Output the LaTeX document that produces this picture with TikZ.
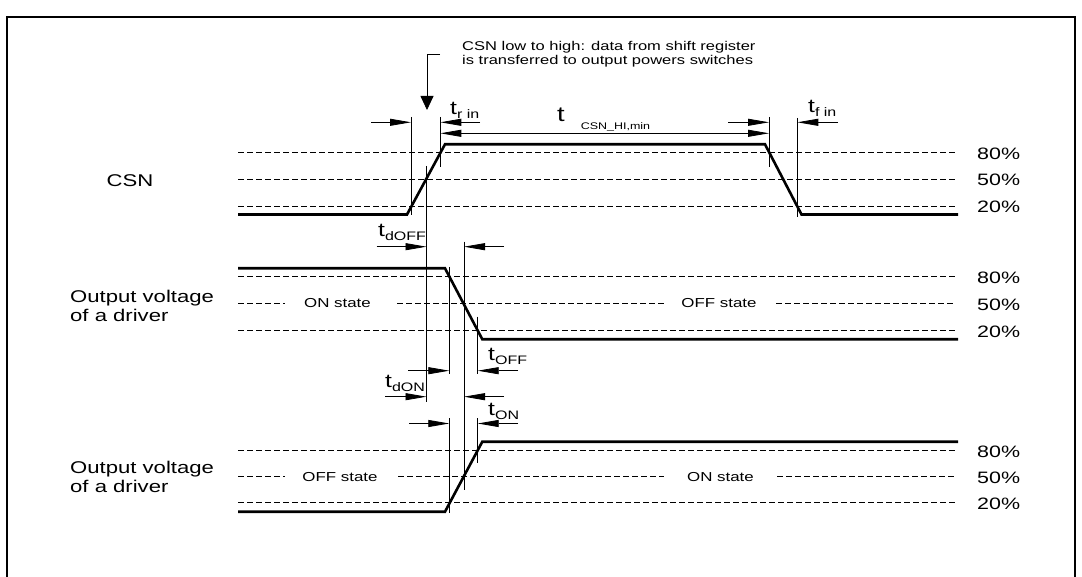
\documentclass[tikz,border=0pt]{standalone}
\usepackage{fontspec}
\setmainfont{Liberation Sans}[FakeStretch=1.3]
\usetikzlibrary{arrows.meta}
\newcommand\tlabel[2][-4pt]{{\fontsize{19}{22}\selectfont t}\raisebox{#1}{\fontsize{12.3}{14}\selectfont #2}}
\begin{document}
\begin{tikzpicture}[x=1pt,y=-1pt,
  sig/.style={line width=2.6pt,line join=miter},
  lvl/.style={line width=0.8pt,dash pattern=on 6pt off 3pt},
  dimln/.style={line width=0.8pt},
  tip/.style={-{Triangle[length=21pt,width=7pt]}},
  tips/.style={{Triangle[length=21pt,width=7pt]}-{Triangle[length=21pt,width=7pt]}},
  big/.style={font=\fontsize{17}{20}\selectfont,inner sep=0pt},
  pct/.style={font=\fontsize{16.5}{19}\selectfont,inner sep=0pt,anchor=west},
  small/.style={font=\fontsize{13}{15}\selectfont,inner sep=0pt},
  note/.style={font=\fontsize{12.7}{14}\selectfont,inner sep=0pt,anchor=base west},
  tl/.style={inner sep=0pt,anchor=base west}]
\useasboundingbox (0,0) rectangle (1082,577);
% frame
\draw[line width=1.6pt] (7,590) -- (7,17) -- (1075,17) -- (1075,590);

% ---------------- CSN ----------------
\foreach \y in {152.7,179.3,206} \draw[lvl] (238,\y) -- (955,\y);
\draw[sig] (238,214.5) -- (407,214.5) -- (445,144.3) -- (765,144.3) -- (801.5,214.5) -- (958,214.5);
\node[big] (csn) at (130,181) {CSN};
\node[pct] (c80) at (977,153.5) {80\%};
\node[pct] (c50) at (977,180) {50\%};
\node[pct] (c20) at (977,207) {20\%};

% ---------------- Output 1 (falling) ----------------
\draw[lvl] (238,276.7) -- (955,276.7);
\draw[lvl] (238,330) -- (955,330);
\draw[lvl] (238,303.3) -- (285,303.3);
\draw[lvl] (397,303.3) -- (665,303.3);
\draw[lvl] (776,303.3) -- (955,303.3);
\node[small] (on1) at (337.5,303.3) {ON state};
\node[small] (off1) at (719,303.3) {OFF state};
\draw[sig] (238,268.3) -- (445,268.3) -- (482.3,339.3) -- (958,339.3);
\node[big,anchor=base west] (ov1a) at (70,302.7) {Output voltage};
\node[big,anchor=base west] (ov1b) at (70,321.7) {of a driver};
\node[pct] (o80) at (977,278) {80\%};
\node[pct] (o50) at (977,304.5) {50\%};
\node[pct] (o20) at (977,331.5) {20\%};

% ---------------- Output 2 (rising) ----------------
\draw[lvl] (238,450.7) -- (955,450.7);
\draw[lvl] (238,502.7) -- (955,502.7);
\draw[lvl] (238,476.7) -- (285,476.7);
\draw[lvl] (398,476.7) -- (664,476.7);
\draw[lvl] (777,476.7) -- (955,476.7);
\node[small] (off2) at (340,476.7) {OFF state};
\node[small] (on2) at (720.5,476.7) {ON state};
\draw[sig] (238,511.7) -- (445,511.7) -- (482.3,441.7) -- (958,441.7);
\node[big,anchor=base west] (ov2a) at (70,473) {Output voltage};
\node[big,anchor=base west] (ov2b) at (70,492.7) {of a driver};
\node[pct] (p80) at (977,451.5) {80\%};
\node[pct] (p50) at (977,478) {50\%};
\node[pct] (p20) at (977,504) {20\%};

% ---------------- annotation ----------------
\node[note] (n1) at (462,50.7) {CSN low to high: data from shift register};
\node[note] (n2) at (462,64.8) {is transferred to output powers switches};
\coordinate (b0) at (440,54);
\coordinate (b1) at (427,54);
\coordinate (b2) at (427,110);
\draw[dimln,-{Triangle[length=14pt,width=13pt]}] (b0) -- (b1) -- (b2);

% ---------------- dimension verticals ----------------
\draw[dimln] (411,117) -- (411,215);
\draw[dimln] (426.5,166) -- (426.5,401.7);
\draw[dimln] (440.3,117) -- (440.3,166.7);
\draw[dimln] (769,117) -- (769,167);
\draw[dimln] (797.3,118) -- (797.3,216.7);
\draw[dimln] (449.3,267) -- (449.3,374);
\draw[dimln] (464,241.7) -- (464,490);
\draw[dimln] (477.7,316.7) -- (477.7,374);
\draw[dimln] (449.3,418) -- (449.3,513);
\draw[dimln] (477.7,418) -- (477.7,463);

% ---------------- dimension arrows ----------------
\draw[dimln,tip] (371,122.3) -- (411,122.3);
\draw[dimln,tip] (480,122.3) -- (440.3,122.3);
\draw[dimln,tips] (440.3,133.3) -- (769,133.3);
\draw[dimln,tip] (728,122.3) -- (769,122.3);
\draw[dimln,tip] (838,122.3) -- (797.3,122.3);
\draw[dimln,tip] (376.7,246.7) -- (426.5,246.7);
\draw[dimln,tip] (504,246.7) -- (464,246.7);
\draw[dimln,tip] (408,370.7) -- (449.3,370.7);
\draw[dimln,tip] (518,370.7) -- (477.7,370.7);
\draw[dimln,tip] (385,396.7) -- (426.5,396.7);
\draw[dimln,tip] (504,396.7) -- (464,396.7);
\draw[dimln,tip] (409,423.5) -- (449.3,423.5);
\draw[dimln,tip] (518,423.5) -- (477.7,423.5);

% ---------------- t labels ----------------
\node[tl] (tdoff) at (378,237) {\tlabel{dOFF}};
\node[tl] (toff) at (488,360) {\tlabel{OFF}};
\node[tl] (tdon) at (385,388) {\tlabel{dON}};
\node[tl] (ton) at (488,415) {\tlabel{ON}};
\node[tl] (trin) at (450,115) {\tlabel{r in}};
\node[tl] (tfin) at (808,112.7) {\tlabel{f in}};
\node[tl] (tcsn) at (557,121.7) {{\fontsize{21}{24}\selectfont t}\hspace{16pt}\raisebox{-8pt}{\fontsize{9.6}{11}\selectfont CSN\_HI,min}};
\end{tikzpicture}
\end{document}
